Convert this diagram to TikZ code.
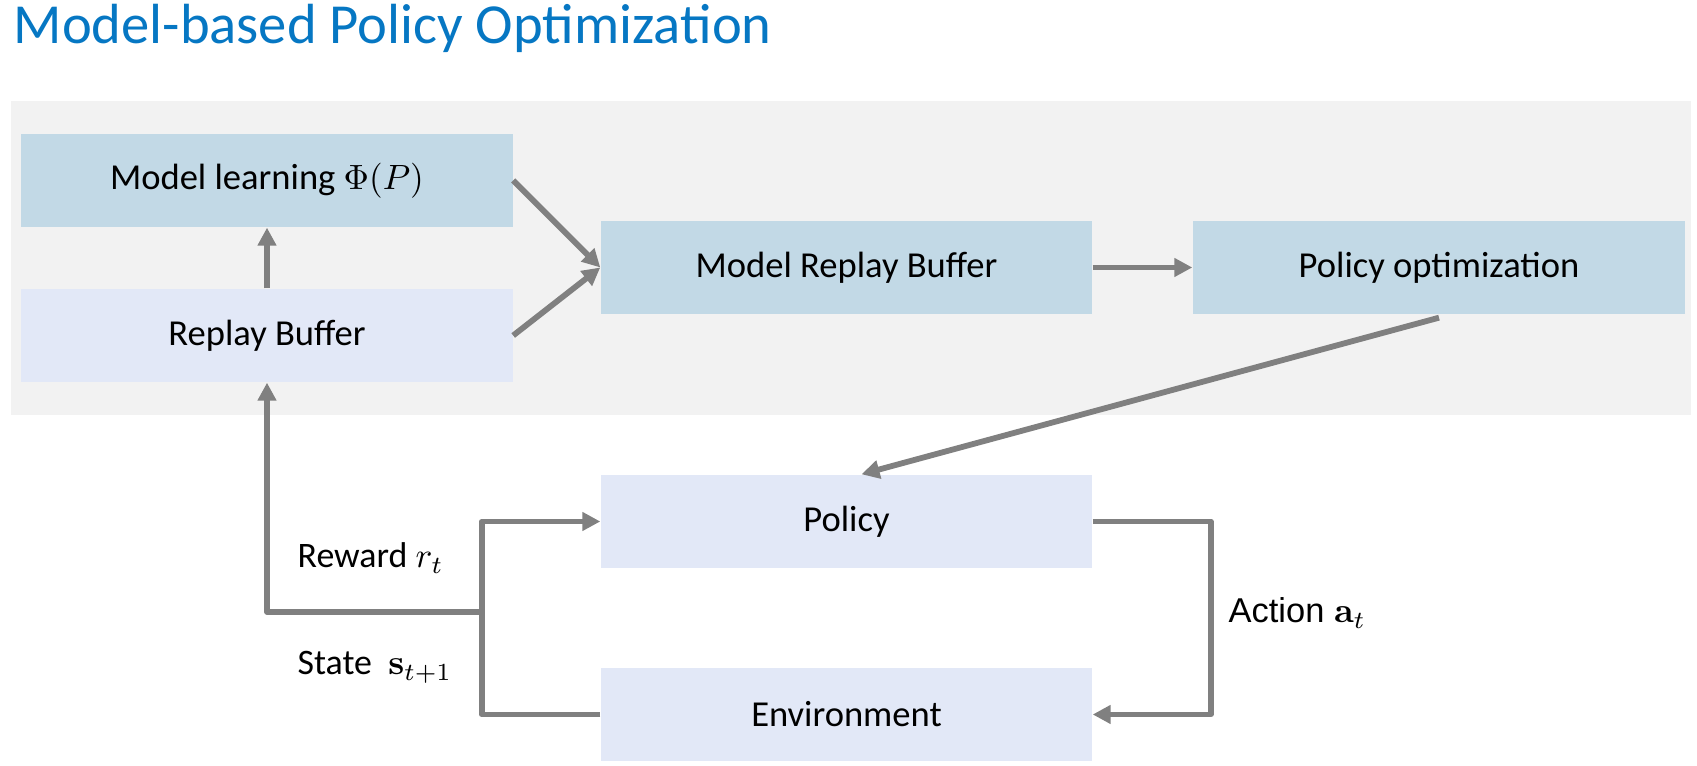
\documentclass[tikz,border=0pt]{standalone}
\usepackage{amsmath,amssymb}
\usepackage[no-math]{fontspec}
\setmainfont{Carlito}
\newfontfamily\arialfont{Liberation Sans}
\usepackage{tikz}
\usetikzlibrary{arrows.meta}
\definecolor{titleblue}{HTML}{0677C3}
\definecolor{panelgray}{HTML}{F2F2F2}
\definecolor{darkbox}{HTML}{C2D9E6}
\definecolor{lightbox}{HTML}{E2E8F7}
\definecolor{flowgray}{HTML}{808080}
\tikzstyle{box}=[minimum width=4.91cm, minimum height=0.93cm, inner sep=0pt, font=\fontsize{10.4}{12}\selectfont]
\tikzstyle{modelbox}=[box, fill=darkbox]
\tikzstyle{realbox}=[box, fill=lightbox]
\tikzstyle{flow}=[draw=flowgray, line width=1.65pt, line join=round, -{Triangle[length=0.18cm,width=0.18cm]}]
\tikzstyle{lbl}=[anchor=base west, inner sep=0pt, font=\fontsize{10.2}{12}\selectfont]

\begin{document}
\begin{tikzpicture}
\useasboundingbox ( 0 , 0 ) rectangle ( 16.97 , 7.66 );
\node[anchor=base west, inner sep=0pt, text=titleblue, font=\fontsize{16.1}{18}\selectfont] (title) at ( 0.13 , 7.227 ){Model-based Policy Optimization};
\fill[panelgray] ( 0.11 , 3.51 ) rectangle ( 16.91 , 6.65 );
\node[modelbox] (ml) at ( 2.67 , 5.855 ){Model learning $\Phi(P)$};
\node[realbox] (rb) at ( 2.67 , 4.305 ){Replay Buffer};
\node[modelbox] (mrb) at ( 8.465 , 4.985 ){Model Replay Buffer};
\node[modelbox, minimum width=4.92cm] (po) at ( 14.39 , 4.985 ){Policy optimization};
\node[realbox] (pol) at ( 8.465 , 2.445 ){Policy};
\node[realbox] (env) at ( 8.465 , 0.515 ){Environment};
\coordinate (split) at ( 4.82 , 1.54 );
\draw[flow] (rb.north)--(ml.south);
\draw[flow] (ml.east)--(mrb.west);
\draw[flow] (rb.east)--(mrb.west);
\draw[flow] (mrb.east)--(po.west);
\draw[flow] ([yshift=-0.03cm]po.south)--([xshift=0.15cm]pol.north);
\draw[flow] (pol.east)-- ++( 1.18 , 0 ) |- (env.east);
\draw[flow] (env.west)-|(split)|-(pol.west);
\draw[flow] (split)-|(rb.south);
\node[lbl] (reward) at ( 2.97 , 1.98 ){Reward $r_t$};
\node[lbl] (state) at ( 2.97 , 0.91 ){State \ $\mathbf{s}_{t+1}$};
\node[lbl, font=\arialfont\fontsize{9.8}{12}\selectfont] (action) at ( 12.28 , 1.43 ){Action $\mathbf{a}_t$};
\end{tikzpicture}
\end{document}
